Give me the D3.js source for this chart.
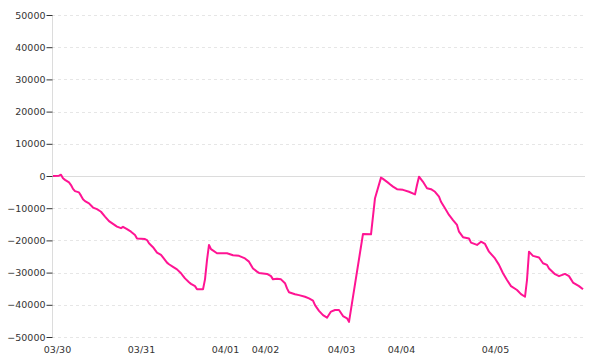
<!DOCTYPE html>
<html>
<head>
<meta charset="utf-8">
<script src="https://cdn.jsdelivr.net/npm/d3@7"></script>
<style>
  html, body { margin: 0; padding: 0; background: #fff; }
  svg { display: block; }
  text { font-family: "DejaVu Sans", Verdana, sans-serif; font-size: 9.5px; fill: #333; }
</style>
</head>
<body>
<svg id="chart" width="600" height="360"></svg>
<script>
// ---- data ----
const slots = [0,3,4,5,6,8,9,10,11,13,14,15,16,18,20,22,24,26,28,32,34,35,37,39,41,42,46,47,48,50,52,54,55,57,58,60,62,64,65,66,68,69,71,72,75,76,77,78,79,82,87,90,93,96,98,100,102,103,107,109,110,112,114,116,117,118,121,123,126,128,130,131,133,135,137,139,141,143,145,147,148,155,159,161,164,165,168,170,172,175,178,181,182,183,185,187,189,191,193,194,196,198,200,202,203,205,208,209,212,214,216,218,221,223,225,227,229,232,234,236,237,238,240,243,245,247,248,251,253,256,258,260,263,265];
const values = [0,100,400,-700,-1200,-2000,-2800,-4000,-4700,-5100,-6100,-7200,-7800,-8500,-9800,-10300,-11100,-12600,-14000,-15700,-16200,-15800,-16500,-17300,-18300,-19400,-19600,-19900,-20900,-22100,-23800,-24500,-25300,-26900,-27400,-28200,-29000,-30200,-31000,-31800,-33000,-33500,-34200,-35200,-35200,-32100,-26100,-21400,-22700,-24000,-24000,-24600,-24800,-25600,-26600,-28700,-29700,-30100,-30400,-31100,-32100,-31900,-32100,-33300,-34900,-36100,-36700,-37000,-37500,-38000,-38700,-40100,-41900,-43200,-44000,-42100,-41600,-41600,-43500,-44200,-45300,-18000,-18100,-6900,-500,-900,-2300,-3300,-4100,-4300,-4900,-5700,-2800,-200,-1800,-3800,-4100,-4900,-6400,-8000,-10000,-12100,-13700,-15200,-17300,-19000,-19400,-20700,-21400,-20400,-21100,-23500,-25600,-27600,-30200,-32300,-34200,-35400,-36700,-37500,-32300,-23500,-24800,-25300,-27100,-27600,-28700,-30500,-31100,-30400,-31100,-33100,-34200,-35200];
const tickSlots = [2,44,86,106,144,174,221];
const tickLabels = ["03/30","03/31","04/01","04/02","04/03","04/04","04/05"];
const yTicks = [50000,40000,30000,20000,10000,0,-10000,-20000,-30000,-40000,-50000];

// ---- layout ----
const margin = {left: 52, top: 15, right: 15, bottom: 23};
const W = 600, H = 360;
const iw = W - margin.left - margin.right;
const ih = H - margin.top - margin.bottom;

const svg = d3.select("#chart");
const g = svg.append("g").attr("transform", `translate(${margin.left},${margin.top})`);

const x = d3.scaleLinear().domain([0, 265]).range([1, iw - 2]);
const y = d3.scaleLinear().domain([-50000, 50000]).range([ih, 0]);

// grid
g.append("g").selectAll("line")
  .data(yTicks.filter(d => d !== 0))
  .join("line")
  .attr("x1", 0).attr("x2", iw)
  .attr("y1", d => Math.round(y(d)) + 0.5).attr("y2", d => Math.round(y(d)) + 0.5)
  .attr("stroke", "#e6e6e6").attr("stroke-dasharray", "3,3");

// zero line
g.append("line")
  .attr("x1", 0).attr("x2", iw)
  .attr("y1", Math.round(y(0)) + 0.5).attr("y2", Math.round(y(0)) + 0.5)
  .attr("stroke", "#dcdcdc");

// y axis
const yAxis = d3.axisLeft(y).tickValues(yTicks).tickSize(6).tickPadding(1).tickFormat(d3.format("d"));
const ya = g.append("g").attr("transform", "translate(0.5,0)").call(yAxis);
ya.select(".domain").attr("stroke", "#dcdcdc").attr("d", `M0,0V${ih}`);
ya.selectAll(".tick line").attr("stroke", "#333");
ya.selectAll(".tick text").attr("font-family", "DejaVu Sans").attr("font-size", "9.5px").attr("fill", "#333");
ya.selectAll(".tick text").text(d => d < 0 ? "\u2212" + Math.abs(d) : String(d));

// x labels
const xAxis = d3.axisBottom(x).tickValues(tickSlots).tickFormat((d, i) => tickLabels[i]).tickSize(0).tickPadding(9);
const xa = g.append("g").attr("transform", `translate(0,${ih})`).call(xAxis);
xa.select(".domain").remove();
xa.selectAll(".tick text").attr("font-family", "DejaVu Sans").attr("font-size", "9.5px").attr("fill", "#333");

// line
const pts = slots.map((s, i) => [s, values[i]]);
g.append("path")
  .datum(pts)
  .attr("fill", "none")
  .attr("stroke", "#ff1493")
  .attr("stroke-width", 2)
  .attr("stroke-linejoin", "round")
  .attr("d", d3.line().x(d => x(d[0])).y(d => y(d[1])));
</script>
</body>
</html>
